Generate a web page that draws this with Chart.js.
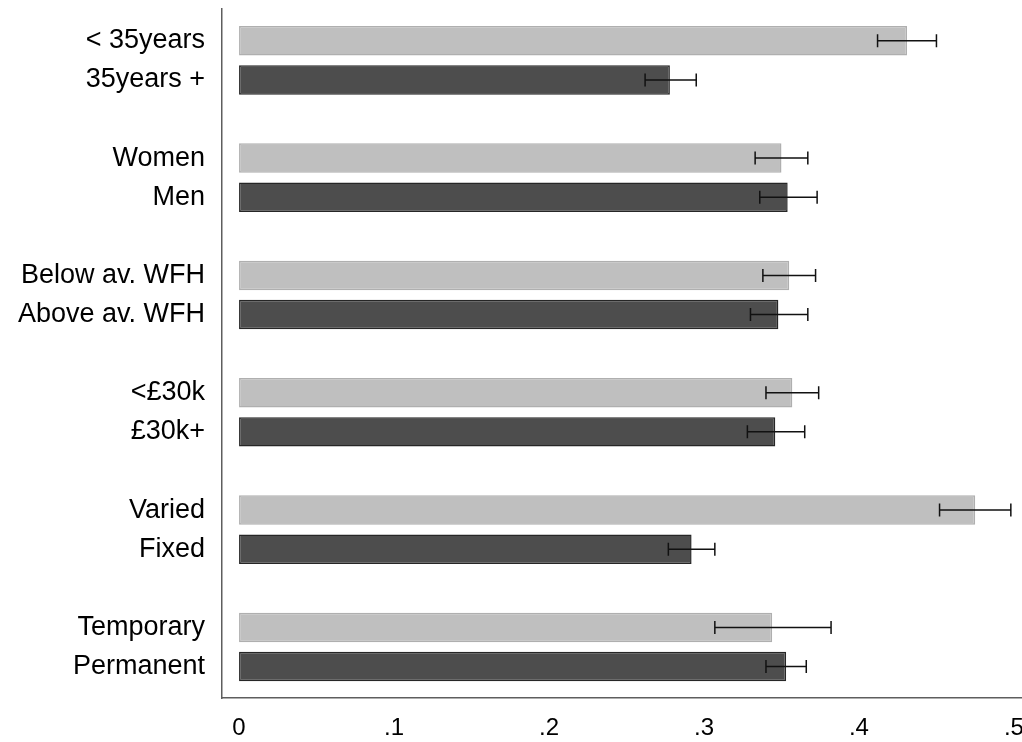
<!DOCTYPE html>
<html>
<head>
<meta charset="utf-8">
<script src="https://cdn.jsdelivr.net/npm/chart.js@4/dist/chart.umd.min.js"></script>
<style>
  html, body { margin: 0; padding: 0; background: #fff; }
  #wrap { width: 1022px; height: 742px; position: relative; }
</style>
</head>
<body>
<div id="wrap"><canvas id="chart"></canvas></div>
<script>
// Group labels, top to bottom (pairs)
const labels = [
  '< 35years', '35years +',
  'Women', 'Men',
  'Below av. WFH', 'Above av. WFH',
  '<£30k', '£30k+',
  'Varied', 'Fixed',
  'Temporary', 'Permanent'
];

// Means
const means = [
  0.431, 0.278,
  0.350, 0.354,
  0.355, 0.348,
  0.357, 0.346,
  0.475, 0.292,
  0.344, 0.353
];

// Confidence interval ends
const ciLow = [
  0.412, 0.262,
  0.333, 0.336,
  0.338, 0.330,
  0.340, 0.328,
  0.452, 0.277,
  0.307, 0.340
];
const ciHigh = [
  0.450, 0.295,
  0.367, 0.373,
  0.372, 0.367,
  0.374, 0.365,
  0.498, 0.307,
  0.382, 0.366
];

// x axis ticks
const tickValues = [0, 0.1, 0.2, 0.3, 0.4, 0.5];
const tickLabels = ['0', '.1', '.2', '.3', '.4', '.5'];

// slot index for each bar: pairs with an empty slot between groups
const slots = labels.map((l, i) => i + Math.floor(i / 2));

const lightFill = '#bfbfbf', lightEdge = '#afafaf';
const darkFill = '#4d4d4d', darkEdge = '#262626';
const FONT = "'Liberation Sans', Arial, Helvetica, sans-serif";

// draw the CI whiskers on top of the bars
const errorBars = {
  id: 'errorBars',
  afterDatasetsDraw(chart) {
    const ctx = chart.ctx;
    const xs = chart.scales.x, ys = chart.scales.y;
    const cap = 6.5;
    ctx.save();
    ctx.strokeStyle = '#111';
    ctx.lineWidth = 1.5;
    labels.forEach((lab, i) => {
      const y = ys.getPixelForValue(slots[i]);
      const a = xs.getPixelForValue(ciLow[i]);
      const b = xs.getPixelForValue(ciHigh[i]);
      ctx.beginPath();
      ctx.moveTo(a, y); ctx.lineTo(b, y);
      ctx.moveTo(a, y - cap); ctx.lineTo(a, y + cap);
      ctx.moveTo(b, y - cap); ctx.lineTo(b, y + cap);
      ctx.stroke();
    });
    ctx.restore();
  }
};

const ctx = document.getElementById('chart').getContext('2d');
new Chart(ctx, {
  type: 'bar',
  data: {
    datasets: [{
      data: means.map((v, i) => ({ x: v, y: slots[i] })),
      backgroundColor: labels.map((l, i) => i % 2 === 0 ? lightFill : darkFill),
      borderColor: labels.map((l, i) => i % 2 === 0 ? lightEdge : darkEdge),
      borderWidth: 1.5,
      borderSkipped: false,
      categoryPercentage: 1,
      barPercentage: 0.754
    }]
  },
  options: {
    indexAxis: 'y',
    responsive: true,
    maintainAspectRatio: false,
    animation: false,
    layout: { padding: { top: 9, left: 0, right: 0, bottom: 0 } },
    plugins: {
      legend: { display: false },
      tooltip: { enabled: false }
    },
    scales: {
      x: {
        type: 'linear',
        min: -0.011,
        max: 0.5052,
        offset: false,
        grid: { display: false, drawTicks: false, offset: false },
        border: { display: true, color: '#5e5e5e', width: 1.5 },
        afterBuildTicks(scale) {
          scale.ticks = tickValues.map(v => ({ value: v }));
        },
        afterFit(scale) {
          scale.height = 44;
          scale.paddingLeft = 0;
          scale.paddingRight = 0;
        },
        ticks: {
          padding: 16,
          maxRotation: 0,
          autoSkip: false,
          color: '#000',
          font: { family: FONT, size: 24 },
          callback(value) {
            const k = tickValues.findIndex(t => Math.abs(t - value) < 1e-9);
            return k >= 0 ? tickLabels[k] : '';
          }
        }
      },
      y: {
        type: 'linear',
        reverse: true,
        min: -0.813,
        max: 16.805,
        offset: false,
        grid: { display: false, drawTicks: false, offset: false },
        border: { display: true, color: '#5e5e5e', width: 1.5 },
        afterBuildTicks(scale) {
          scale.ticks = slots.map(s => ({ value: s }));
        },
        afterFit(scale) {
          scale.width = 222;
          scale.paddingTop = 0;
          scale.paddingBottom = 0;
        },
        ticks: {
          padding: 17,
          autoSkip: false,
          color: '#000',
          font: { family: FONT, size: 27 },
          callback(value) {
            const k = slots.indexOf(value);
            return k >= 0 ? labels[k] : '';
          }
        }
      }
    }
  },
  plugins: [errorBars]
});
</script>
</body>
</html>
